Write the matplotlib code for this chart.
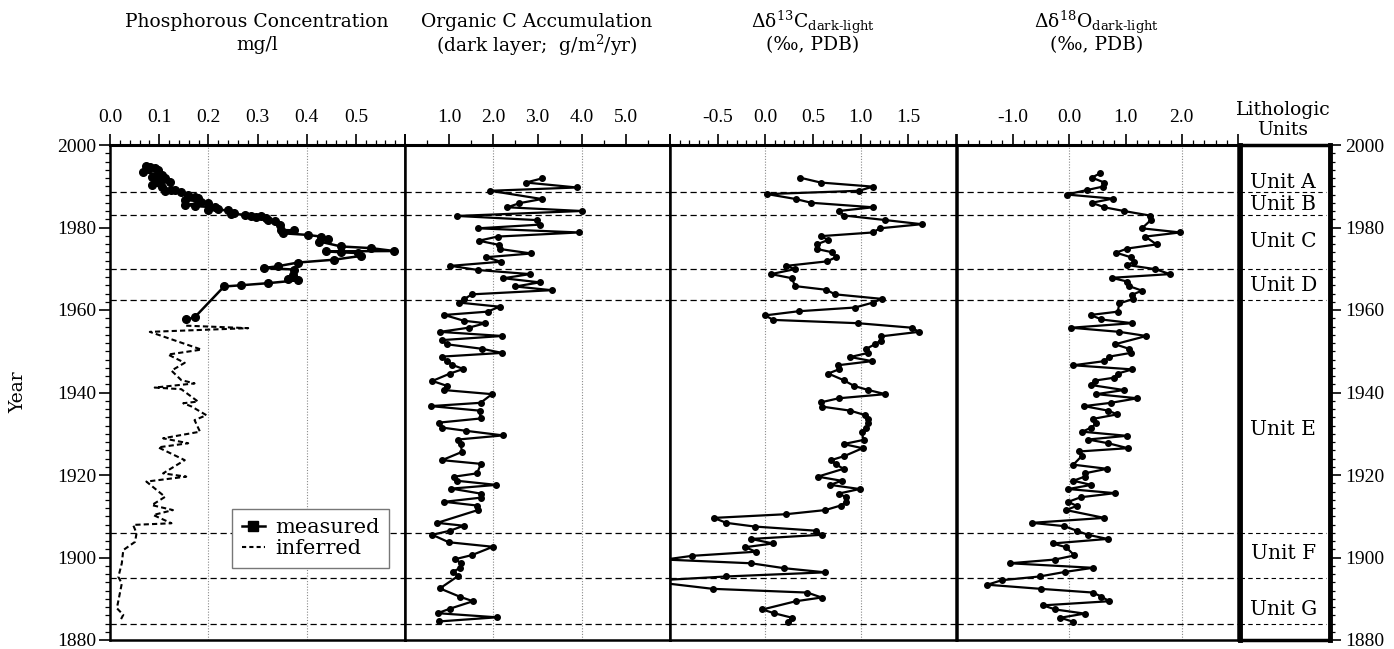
import matplotlib
matplotlib.use('Agg')
import matplotlib.pyplot as plt
from matplotlib.lines import Line2D
from matplotlib.ticker import FixedLocator, FixedFormatter, MultipleLocator

# ---------------- data ----------------
p_meas_year = [1994.9, 1994.6, 1994.4, 1994.0, 1993.5, 1992.7, 1992.3, 1991.9, 1991.5, 1991.1,
               1990.3, 1989.9, 1989.1, 1989.0, 1988.8, 1988.5, 1987.9, 1987.5, 1987.1, 1986.7,
               1986.3, 1986.0, 1985.5, 1985.2, 1984.9, 1984.4, 1984.3, 1984.2, 1983.6, 1983.3,
               1983.1, 1982.8, 1982.7, 1982.5, 1982.3, 1981.9, 1981.5, 1980.6, 1979.4, 1979.3,
               1978.6, 1978.2, 1977.8, 1977.2, 1976.6, 1975.4, 1975.0, 1974.3, 1974.2, 1974.0,
               1973.8, 1973.1, 1972.2, 1971.5, 1970.6, 1970.2, 1969.8, 1968.5, 1967.5, 1967.2,
               1966.5, 1966.0, 1965.7, 1958.2, 1957.7]
p_meas_val = [0.074, 0.081, 0.091, 0.098, 0.068, 0.105, 0.085, 0.112, 0.095, 0.122,
              0.085, 0.105, 0.125, 0.132, 0.112, 0.145, 0.159, 0.172, 0.179, 0.152,
              0.186, 0.199, 0.152, 0.172, 0.213, 0.220, 0.199, 0.240, 0.253, 0.247,
              0.274, 0.308, 0.287, 0.297, 0.318, 0.321, 0.335, 0.345, 0.348, 0.375,
              0.352, 0.402, 0.429, 0.443, 0.426, 0.470, 0.531, 0.578, 0.439, 0.470,
              0.504, 0.510, 0.456, 0.382, 0.341, 0.314, 0.375, 0.372, 0.362, 0.382,
              0.321, 0.267, 0.232, 0.172, 0.155]

p_inf_year = [1956.2, 1955.6, 1954.7, 1950.4, 1949.2, 1947.2, 1945.3, 1943.0, 1942.2, 1941.2,
              1940.8, 1937.8, 1937.4, 1936.6, 1934.5, 1933.3, 1930.5, 1928.9, 1927.7, 1926.7,
              1923.6, 1920.4, 1919.6, 1918.4, 1914.7, 1912.7, 1911.5, 1910.3, 1908.3, 1907.9,
              1905.9, 1903.8, 1901.8, 1898.6, 1895.3, 1893.7, 1887.7, 1886.1, 1884.5]
p_inf_val = [0.155, 0.281, 0.081, 0.186, 0.118, 0.152, 0.125, 0.145, 0.172, 0.091,
             0.145, 0.179, 0.149, 0.166, 0.196, 0.172, 0.183, 0.108, 0.159, 0.098,
             0.152, 0.108, 0.155, 0.074, 0.112, 0.085, 0.128, 0.088, 0.125, 0.047,
             0.054, 0.051, 0.027, 0.024, 0.017, 0.024, 0.014, 0.027, 0.020]

orgc_year = [1991.9, 1990.9, 1989.7, 1988.9, 1986.9, 1985.9, 1984.9, 1984.0, 1982.8, 1981.8,
             1980.7, 1979.8, 1978.8, 1977.8, 1976.8, 1975.8, 1974.8, 1973.7, 1972.8, 1971.7,
             1970.7, 1969.7, 1968.7, 1967.7, 1966.7, 1965.7, 1964.8, 1963.8, 1962.6, 1961.8,
             1960.8, 1959.6, 1958.8, 1957.4, 1956.8, 1955.7, 1954.7, 1953.7, 1952.7, 1951.7,
             1950.6, 1949.6, 1948.7, 1947.6, 1946.7, 1945.7, 1944.6, 1942.8, 1941.6, 1940.6,
             1939.6, 1937.5, 1936.7, 1935.6, 1933.7, 1932.7, 1931.5, 1930.7, 1929.6, 1928.6,
             1927.5, 1925.6, 1923.6, 1922.7, 1920.4, 1919.6, 1918.6, 1917.6, 1916.7, 1915.5,
             1914.5, 1913.5, 1912.6, 1911.5, 1908.4, 1907.7, 1906.5, 1905.5, 1903.7, 1902.6,
             1900.6, 1899.6, 1898.6, 1897.4, 1896.6, 1895.5, 1892.5, 1890.5, 1889.4, 1887.6,
             1886.5, 1885.5, 1884.5]
orgc_val = [3.10, 2.74, 3.89, 1.93, 3.10, 2.59, 2.32, 4.00, 1.18, 2.98,
            3.06, 1.65, 3.94, 2.10, 1.67, 2.12, 2.14, 2.86, 1.84, 2.17,
            1.03, 1.65, 2.83, 2.23, 3.05, 2.50, 3.32, 1.52, 1.33, 1.22,
            2.14, 1.87, 0.89, 1.33, 1.82, 1.44, 0.79, 2.20, 0.84, 0.94,
            1.74, 2.20, 0.84, 0.95, 1.07, 1.32, 1.02, 0.62, 0.95, 0.88,
            1.97, 1.71, 0.58, 1.69, 1.71, 0.77, 0.84, 1.39, 2.22, 1.20,
            1.26, 1.29, 0.84, 1.72, 1.63, 1.12, 1.18, 2.07, 1.05, 1.71,
            1.71, 0.89, 1.63, 1.65, 0.73, 1.33, 1.02, 0.62, 0.99, 1.99,
            1.52, 1.14, 1.27, 1.24, 1.09, 1.20, 0.79, 1.24, 1.54, 1.02,
            0.74, 2.08, 0.77]

d13c_year = [1992.1, 1990.9, 1989.9, 1988.9, 1988.1, 1986.9, 1986.0, 1984.9, 1984.0, 1982.9,
             1981.8, 1980.8, 1979.8, 1978.8, 1977.9, 1977.0, 1975.9, 1974.8, 1974.0, 1972.8,
             1971.8, 1970.7, 1969.9, 1968.7, 1967.7, 1965.8, 1964.9, 1963.8, 1962.7, 1961.8,
             1960.6, 1959.7, 1958.7, 1957.6, 1956.8, 1955.7, 1954.7, 1953.6, 1952.6, 1951.7,
             1950.6, 1949.6, 1948.6, 1947.6, 1946.6, 1945.6, 1944.6, 1943.0, 1941.6, 1940.6,
             1939.6, 1938.6, 1937.6, 1936.6, 1935.6, 1934.5, 1933.5, 1932.5, 1931.5, 1930.5,
             1928.5, 1927.5, 1926.5, 1924.6, 1923.6, 1922.6, 1921.5, 1919.6, 1918.6, 1917.6,
             1916.6, 1915.5, 1914.6, 1913.5, 1912.6, 1911.5, 1910.5, 1909.6, 1908.4, 1907.5,
             1906.5, 1905.5, 1904.5, 1903.4, 1902.5, 1901.4, 1900.4, 1899.5, 1898.6, 1897.4,
             1896.4, 1895.4, 1894.3, 1892.4, 1891.5, 1890.3, 1889.4, 1887.4, 1886.5, 1885.4,
             1884.3]
d13c_val = [0.36, 0.58, 1.13, 0.98, 0.02, 0.32, 0.48, 1.13, 0.77, 0.83,
            1.26, 1.64, 1.20, 1.13, 0.58, 0.66, 0.54, 0.54, 0.70, 0.74,
            0.65, 0.22, 0.31, 0.06, 0.28, 0.31, 0.64, 0.73, 1.22, 1.13,
            0.94, 0.35, 0.00, 0.08, 0.97, 1.54, 1.61, 1.21, 1.21, 1.15,
            1.06, 1.08, 0.89, 1.12, 0.76, 0.77, 0.66, 0.82, 0.93, 1.08,
            1.26, 0.77, 0.58, 0.59, 0.89, 1.05, 1.08, 1.08, 1.06, 1.01,
            1.03, 0.82, 1.02, 0.83, 0.69, 0.74, 0.82, 0.55, 0.80, 0.68,
            0.99, 0.77, 0.85, 0.85, 0.79, 0.63, 0.22, -0.54, -0.41, -0.11,
            0.53, 0.59, -0.15, 0.08, -0.21, -0.10, -0.77, -1.05, -0.15, 0.20,
            0.63, -0.41, -1.25, -0.55, 0.44, 0.59, 0.32, -0.03, 0.09, 0.28,
            0.24]

d18o_year = [1993.1, 1992.1, 1990.9, 1989.9, 1989.1, 1988.0, 1987.0, 1986.0, 1984.9, 1984.0,
             1982.9, 1981.8, 1979.8, 1978.8, 1977.8, 1975.9, 1974.9, 1973.9, 1972.8, 1971.7,
             1970.9, 1969.9, 1968.7, 1967.8, 1966.9, 1965.8, 1964.7, 1963.7, 1962.7, 1961.6,
             1959.6, 1958.8, 1957.7, 1956.8, 1955.7, 1954.7, 1953.7, 1951.7, 1950.6, 1949.6,
             1948.7, 1947.6, 1946.6, 1945.6, 1944.6, 1943.6, 1942.9, 1941.8, 1940.6, 1939.6,
             1938.6, 1937.5, 1936.7, 1935.6, 1934.7, 1933.6, 1932.5, 1931.5, 1930.5, 1929.5,
             1928.6, 1927.7, 1926.5, 1925.7, 1924.6, 1922.5, 1921.5, 1920.4, 1919.6, 1918.6,
             1917.6, 1916.6, 1915.6, 1914.6, 1913.5, 1912.5, 1911.5, 1909.6, 1908.4, 1907.6,
             1906.5, 1905.5, 1904.5, 1903.4, 1902.5, 1900.5, 1899.5, 1898.6, 1897.5, 1896.5,
             1895.4, 1894.5, 1893.4, 1892.4, 1891.5, 1890.5, 1889.4, 1888.4, 1887.4, 1886.4,
             1885.4, 1884.4]
d18o_val = [0.54, 0.40, 0.62, 0.59, 0.32, -0.05, 0.77, 0.40, 0.62, 0.97,
            1.43, 1.45, 1.29, 1.97, 1.35, 1.55, 1.03, 0.83, 1.09, 1.15,
            1.03, 1.53, 1.79, 0.75, 1.03, 1.06, 1.29, 1.12, 1.14, 0.89,
            0.86, 0.38, 0.57, 1.12, 0.03, 0.89, 1.37, 0.81, 1.06, 1.09,
            0.71, 0.62, 0.07, 1.12, 0.86, 0.80, 0.46, 0.39, 0.97, 0.48,
            1.21, 0.74, 0.26, 0.69, 0.85, 0.42, 0.48, 0.39, 0.23, 1.02,
            0.33, 0.69, 1.04, 0.17, 0.22, 0.07, 0.67, 0.27, 0.27, 0.07,
            0.39, -0.02, 0.81, 0.20, -0.02, 0.13, -0.06, 0.62, -0.67, -0.09,
            0.13, 0.33, 0.68, -0.30, -0.06, 0.09, -0.26, -1.06, 0.42, -0.08,
            -0.53, -1.20, -1.46, -0.51, 0.42, 0.57, 0.71, -0.47, -0.25, 0.27,
            -0.16, 0.07]

unit_bounds = [1988.5, 1983.0, 1970.0, 1962.5, 1906.0, 1895.0, 1884.0]
unit_names = ['Unit A', 'Unit B', 'Unit C', 'Unit D', 'Unit E', 'Unit F', 'Unit G']
unit_label_year = [1991.0, 1985.6, 1976.6, 1966.0, 1931.0, 1901.0, 1887.5]

year_ticks = [1880, 1900, 1920, 1940, 1960, 1980, 2000]

p_ticks = [0.0, 0.1, 0.2, 0.3, 0.4, 0.5, 0.6]
p_labels = ['0.0', '0.1', '0.2', '0.3', '0.4', '0.5', '']
c_ticks = [0, 1, 2, 3, 4, 5, 6]
c_labels = ['', '1.0', '2.0', '3.0', '4.0', '5.0', '']
d13_ticks = [-1.0, -0.5, 0.0, 0.5, 1.0, 1.5, 2.0]
d13_labels = ['', '-0.5', '0.0', '0.5', '1.0', '1.5', '']
d18_ticks = [-2, -1, 0, 1, 2, 3]
d18_labels = ['', '-1.0', '0.0', '1.0', '2.0', '']

# ---------------- figure ----------------
W, H = 1394, 649
plt.rcParams['font.family'] = ['Liberation Serif', 'DejaVu Serif']
plt.rcParams['mathtext.fontset'] = 'dejavuserif'
fig = plt.figure(figsize=(W / 100, H / 100), dpi=100)

TOP, BOT = 145, 640
TFONT = ['DejaVu Serif']
TSIZE = 13.5


def make_ax(x0, x1):
    return fig.add_axes([x0 / W, 1 - BOT / H, (x1 - x0) / W, (BOT - TOP) / H])


def style_panel(ax, xlim, ticks, labels, minor, grids):
    ax.set_ylim(1880, 2000)
    ax.set_xlim(*xlim)
    ax.xaxis.tick_top()
    ax.xaxis.set_major_locator(FixedLocator(ticks))
    ax.xaxis.set_major_formatter(FixedFormatter(labels))
    ax.xaxis.set_minor_locator(MultipleLocator(minor))
    ax.tick_params(axis='x', which='major', direction='out', length=8, width=1.2,
                   labelsize=14, pad=5.5, top=True, bottom=False)
    ax.tick_params(axis='x', which='minor', direction='out', length=3.5, width=0.9,
                   top=True, bottom=False)
    ax.tick_params(axis='y', which='both', left=False, right=False,
                   labelleft=False, labelright=False)
    for s in ax.spines.values():
        s.set_linewidth(1.8)
    ax.spines['top'].set_linewidth(2.2)
    for g in grids:
        ax.axvline(g, color='#8a8a8a', lw=0.8, ls=(0, (1, 1.5)), zorder=1)
    for b in unit_bounds:
        ax.axhline(b, color='black', lw=0.9, ls=(0, (5, 3)), zorder=1)


ax1 = make_ax(110, 405)
ax2 = make_ax(405, 670)
ax3 = make_ax(670, 956)
ax4 = make_ax(957, 1238)
ax5 = make_ax(1240, 1330)

style_panel(ax1, (0, 0.6), p_ticks, p_labels, 0.02, [0.2, 0.4])
style_panel(ax2, (0, 6), c_ticks, c_labels, 0.5, [2, 4])
style_panel(ax3, (-1, 2), d13_ticks, d13_labels, 0.1, [0.0, 1.0])
style_panel(ax4, (-2, 3), d18_ticks, d18_labels, 0.2, [0.0, 2.0])

# left year axis
ax1.tick_params(axis='y', which='both', left=True, labelleft=True)
ax1.yaxis.set_major_locator(FixedLocator(year_ticks))
ax1.yaxis.set_minor_locator(MultipleLocator(2))
ax1.tick_params(axis='y', which='major', direction='out', length=8, width=1.2,
                labelsize=14, pad=2)
ax1.tick_params(axis='y', which='minor', direction='out', length=3.5, width=0.9)

# data
ax1.plot(p_meas_val, p_meas_year, color='black', lw=1.8, marker='o', ms=5.5, zorder=3)
ax1.plot(p_inf_val, p_inf_year, color='black', lw=1.5, ls=(0, (2.5, 1.5)), zorder=3)
ax2.plot(orgc_val, orgc_year, color='black', lw=1.6, marker='o', ms=4, zorder=3)
ax3.plot(d13c_val, d13c_year, color='black', lw=1.6, marker='o', ms=4, zorder=3)
ax4.plot(d18o_val, d18o_year, color='black', lw=1.6, marker='o', ms=4, zorder=3)

# legend
handles = [Line2D([], [], color='black', lw=1.8, marker='s', ms=7),
           Line2D([], [], color='black', lw=1.5, ls=(0, (2, 1.5)))]
leg = ax1.legend(handles, ['measured', 'inferred'], loc='lower right',
                 bbox_to_anchor=(0.98, 0.125), frameon=True, fancybox=False,
                 edgecolor='#777777', framealpha=1.0, handlelength=1.1,
                 handletextpad=0.5, borderpad=0.45, labelspacing=0.1,
                 prop={'family': TFONT, 'size': 15})
leg.get_frame().set_linewidth(1.0)
leg.set_zorder(5)

# units panel
ax5.set_ylim(1880, 2000)
ax5.set_xlim(0, 1)
ax5.tick_params(axis='x', which='both', top=False, bottom=False,
                labeltop=False, labelbottom=False)
ax5.yaxis.tick_right()
ax5.yaxis.set_major_locator(FixedLocator(year_ticks))
ax5.yaxis.set_minor_locator(MultipleLocator(2))
ax5.tick_params(axis='y', which='major', direction='out', length=8, width=1.2,
                labelsize=14, pad=3, left=False, right=True)
ax5.tick_params(axis='y', which='minor', direction='out', length=3.5, width=0.9,
                left=False, right=True)
for s in ax5.spines.values():
    s.set_linewidth(2.5)
ax5.spines['left'].set_linewidth(3.5)
ax5.spines['right'].set_linewidth(3.5)
for b in unit_bounds:
    ax5.axhline(b, color='black', lw=0.8, ls=(0, (4, 3)), xmax=0.95)
for name, yr in zip(unit_names, unit_label_year):
    ax5.text(0.48, yr, name, ha='center', va='center', family=TFONT, fontsize=14.5)


# titles
def ftext(x, y, s, **kw):
    fig.text(x / W, 1 - y / H, s, ha='center', va='center', family=TFONT,
             fontsize=TSIZE, **kw)


ftext(257, 22, 'Phosphorous Concentration')
ftext(257, 45, 'mg/l')
ftext(537, 22, 'Organic C Accumulation')
ftext(537, 45, '(dark layer;  g/m$^{2}$/yr)')
ftext(813, 22, 'Δδ$^{13}$C$_{\\mathrm{dark‐light}}$')
ftext(813, 45, '(‰, PDB)')
ftext(1097, 22, 'Δδ$^{18}$O$_{\\mathrm{dark‐light}}$')
ftext(1097, 45, '(‰, PDB)')
ftext(1283, 110, 'Lithologic')
ftext(1283, 130, 'Units')
ftext(18, 392, 'Year', rotation=90)

fig.savefig('out.png', dpi=100)
